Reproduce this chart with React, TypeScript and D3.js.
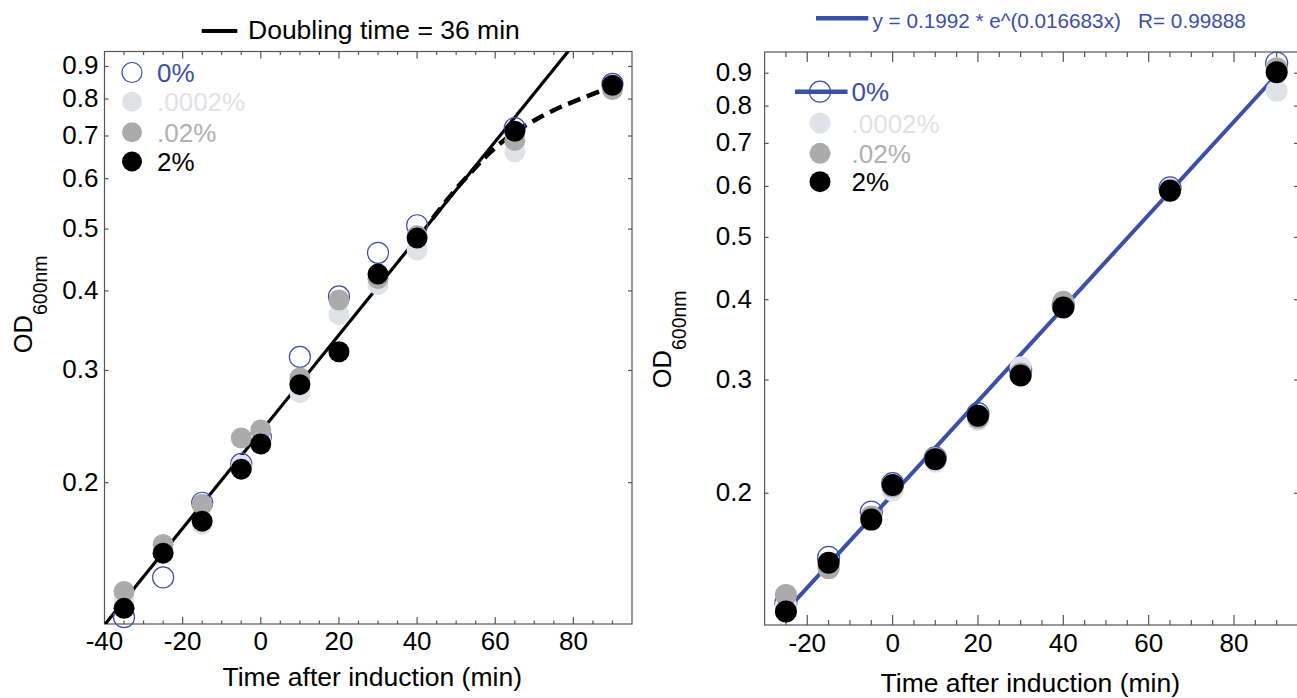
import { useEffect, useRef } from "react";
import * as d3 from "d3";

// ---- left panel: OD600 of the four cultures ----
const leftTimes = [-35, -25, -15, -5, 0, 10, 20, 30, 40, 65, 90];
const leftOD_0 = [0.123, 0.142, 0.186, 0.214, 0.236, 0.315, 0.392, 0.459, 0.507, 0.72, 0.845];
const leftOD_00002 = [0.130, 0.156, 0.172, 0.213, 0.232, 0.277, 0.367, 0.409, 0.464, 0.661, 0.83];
const leftOD_002 = [0.135, 0.160, 0.185, 0.235, 0.242, 0.292, 0.387, 0.418, 0.488, 0.689, 0.828];
const leftOD_2 = [0.127, 0.155, 0.174, 0.210, 0.230, 0.285, 0.321, 0.425, 0.484, 0.712, 0.841];
// exponential fit  y = a * e^(k t)
const leftFit = [0.2405, 0.01747];
// saturating part (dashed)
const satTimes = [44, 50, 54.4, 58.2, 64.6, 69.3, 74.9, 80.8, 89.8, 92.4];
const satOD = [0.52, 0.58, 0.619, 0.657, 0.71, 0.736, 0.77, 0.796, 0.837, 0.841];

// ---- right panel ----
const rightTimes = [-25, -15, -5, 0, 10, 20, 30, 40, 65, 90];
const rightOD_0 = [0.135, 0.159, 0.187, 0.207, 0.227, 0.266, 0.311, 0.392, 0.597, 0.933];
const rightOD_00002 = [0.134, 0.153, 0.183, 0.202, 0.224, 0.26, 0.314, 0.39, 0.59, 0.845];
const rightOD_002 = [0.139, 0.153, 0.184, 0.205, 0.227, 0.262, 0.307, 0.397, 0.593, 0.916];
const rightOD_2 = [0.131, 0.156, 0.182, 0.206, 0.226, 0.264, 0.305, 0.389, 0.591, 0.903];
const rightFit = [0.1992, 0.016683];

const seriesNames = ["0%", ".0002%", ".02%", "2%"];
const yTicks = [0.2, 0.3, 0.4, 0.5, 0.6, 0.7, 0.8, 0.9];
const leftXTicks = [-40, -20, 0, 20, 40, 60, 80];
const rightXTicks = [-20, 0, 20, 40, 60, 80];

const BLUE = "#3b4fa8";
const fills = ["none", "#dfe2e7", "#ababab", "#000"];
const textColors = [BLUE, "#dfe2e7", "#b0b0b0", "#000"];
const FONT = "'Liberation Sans', Arial, Helvetica, sans-serif";

function drawPanel(svg, o) {
  const g = svg.append("g");
  const x = d3.scaleLinear().domain(o.xDomain).range([o.left, o.right]);
  const y = d3.scaleLog().domain(o.yDomain).range([o.bottom, o.top]);

  const clipId = "clip" + o.id;
  g.append("clipPath").attr("id", clipId)
    .append("rect")
    .attr("x", o.left).attr("y", o.top)
    .attr("width", o.right - o.left).attr("height", o.bottom - o.top);

  // frame
  g.append("rect")
    .attr("x", o.left).attr("y", o.top)
    .attr("width", o.right - o.left).attr("height", o.bottom - o.top)
    .attr("fill", "none").attr("stroke", "#555").attr("stroke-width", 1.2);

  // x ticks (minor every 5, major at labels), bottom and top, inward
  const minor = d3.range(-40, 100, 5).filter(t => t > o.xDomain[0] && t < o.xDomain[1]);
  minor.forEach(t => {
    const major = o.xTicks.includes(t);
    const len = major ? o.majorLen : o.majorLen / 2;
    g.append("line").attr("x1", x(t)).attr("x2", x(t))
      .attr("y1", o.bottom).attr("y2", o.bottom - len)
      .attr("stroke", "#555").attr("stroke-width", 1.2);
    g.append("line").attr("x1", x(t)).attr("x2", x(t))
      .attr("y1", o.top).attr("y2", o.top + len)
      .attr("stroke", "#555").attr("stroke-width", 1.2);
  });
  g.selectAll("text.xt").data(o.xTicks).join("text")
    .attr("x", d => x(d)).attr("y", o.xLabelY)
    .attr("text-anchor", "middle")
    .attr("font-size", 26).attr("font-family", FONT)
    .text(d => d);

  // y ticks, both sides, inward
  yTicks.forEach(v => {
    g.append("line").attr("x1", o.left).attr("x2", o.left + 4)
      .attr("y1", y(v)).attr("y2", y(v)).attr("stroke", "#555").attr("stroke-width", 1.2);
    g.append("line").attr("x1", o.right).attr("x2", o.right - 4)
      .attr("y1", y(v)).attr("y2", y(v)).attr("stroke", "#555").attr("stroke-width", 1.2);
  });
  g.selectAll("text.yt").data(yTicks).join("text")
    .attr("x", o.yLabelX).attr("y", d => y(d) + 8)
    .attr("text-anchor", "end")
    .attr("font-size", 26).attr("font-family", FONT)
    .text(d => d3.format(".1f")(d));

  // axis titles
  g.append("text")
    .attr("x", (o.left + o.right) / 2 + o.xTitleShift).attr("y", o.xTitleY)
    .attr("text-anchor", "middle")
    .attr("font-size", 26.5).attr("font-family", FONT)
    .text("Time after induction (min)");
  const yl = g.append("text")
    .attr("transform", `translate(${o.yTitle[0]},${o.yTitle[1]}) rotate(-90)`)
    .attr("font-family", FONT).attr("font-size", 25.5);
  yl.append("tspan").text("OD");
  yl.append("tspan").attr("dy", 15).attr("font-size", 19.5).text("600nm");

  // fit lines
  const line = d3.line().x(d => x(d[0])).y(d => y(d[1]));
  const plot = g.append("g").attr("clip-path", `url(#${clipId})`);
  const fitPts = o.fitRange.map(t => [t, o.fit[0] * Math.exp(o.fit[1] * t)]);
  plot.append("path").attr("d", line(fitPts))
    .attr("fill", "none").attr("stroke", o.fitColor).attr("stroke-width", o.fitWidth);
  if (o.sat) {
    const satLine = d3.line().x(d => x(d[0])).y(d => y(d[1])).curve(d3.curveBasis);
    plot.append("path").attr("d", satLine(o.sat))
      .attr("fill", "none").attr("stroke", "#000").attr("stroke-width", 4.5)
      .attr("stroke-dasharray", "13,7");
  }

  // data
  o.series.forEach((vals, i) => {
    g.selectAll(`circle.s${i}`).data(vals).join("circle")
      .attr("class", `s${i}`)
      .attr("cx", (d, j) => x(o.times[j]))
      .attr("cy", d => y(d))
      .attr("r", o.r)
      .attr("fill", fills[i])
      .attr("stroke", i === 0 ? BLUE : "none")
      .attr("stroke-width", 1.2);
  });

  // legend
  seriesNames.forEach((name, i) => {
    const ly = o.legendY[i];
    if (i === 0 && o.legendLine) {
      g.append("line").attr("x1", o.legendLine[0]).attr("x2", o.legendLine[1])
        .attr("y1", ly).attr("y2", ly).attr("stroke", BLUE).attr("stroke-width", 4.5);
    }
    g.append("circle").attr("cx", o.legendX).attr("cy", ly).attr("r", o.r - 0.5)
      .attr("fill", fills[i]).attr("stroke", i === 0 ? BLUE : "none").attr("stroke-width", 1.2);
    g.append("text").attr("x", o.legendTextX).attr("y", ly + 9.5)
      .attr("font-size", 26).attr("font-family", FONT)
      .attr("fill", textColors[i]).text(name);
  });
  return { x, y };
}

export default function App() {
  const ref = useRef(null);

  useEffect(() => {
    const svg = d3.select(ref.current);
    svg.selectAll("*").remove();

    drawPanel(svg, {
      id: "L",
      left: 104.5, right: 632, top: 51.5, bottom: 624,
      xDomain: [-40, 95], yDomain: [0.12, 0.95],
      xTicks: leftXTicks, majorLen: 7,
      xLabelY: 650, yLabelX: 98.5,
      xTitleY: 686, xTitleShift: 4,
      yTitle: [31.6, 353.3],
      times: leftTimes,
      series: [leftOD_0, leftOD_00002, leftOD_002, leftOD_2],
      fit: leftFit, fitRange: [-40, 95], fitColor: "#000", fitWidth: 3.2,
      sat: satTimes.map((t, i) => [t, satOD[i]]),
      r: 10.5,
      legendX: 132, legendTextX: 157, legendY: [72.5, 101.7, 132.3, 161.5],
    });

    drawPanel(svg, {
      id: "R",
      left: 764.6, right: 1298, top: 52, bottom: 625,
      xDomain: [-30, 95], yDomain: [0.1248, 0.971],
      xTicks: rightXTicks, majorLen: 10,
      xLabelY: 652, yLabelX: 752,
      xTitleY: 692, xTitleShift: -1,
      yTitle: [671.4, 388.3],
      times: rightTimes,
      series: [rightOD_0, rightOD_00002, rightOD_002, rightOD_2],
      fit: rightFit, fitRange: [-25, 90], fitColor: BLUE, fitWidth: 4,
      r: 11,
      legendX: 820, legendTextX: 851.5, legendY: [91.7, 123, 153.3, 181.7],
      legendLine: [795, 847.5],
    });

    // titles
    svg.append("line").attr("x1", 201.7).attr("x2", 237.3).attr("y1", 31).attr("y2", 31)
      .attr("stroke", "#000").attr("stroke-width", 4);
    svg.append("text").attr("x", 248).attr("y", 38.5)
      .attr("font-size", 26.5).attr("font-family", FONT)
      .text("Doubling time = 36 min");

    svg.append("line").attr("x1", 816).attr("x2", 868.3).attr("y1", 18.3).attr("y2", 18.3)
      .attr("stroke", BLUE).attr("stroke-width", 4.5);
    svg.append("text").attr("x", 872.5).attr("y", 28.3)
      .attr("font-size", 20.7).attr("font-family", FONT).attr("fill", BLUE)
      .attr("xml:space", "preserve")
      .text("y = 0.1992 * e^(0.016683x)   R= 0.99888");
  }, []);

  return (
    <svg
      ref={ref}
      width={1297}
      height={698}
      style={{ position: "absolute", left: 0, top: 0, background: "#fff" }}
    />
  );
}
